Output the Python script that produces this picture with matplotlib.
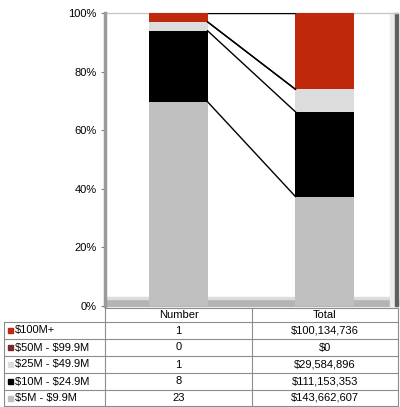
import numpy as np
import matplotlib
matplotlib.use("Agg")
import matplotlib.pyplot as plt
from matplotlib.patches import Rectangle
from matplotlib.lines import Line2D

plt.rcParams['font.family'] = ['Liberation Sans', 'DejaVu Sans']
plt.rcParams['font.size'] = 8
plt.rcParams['text.parse_math'] = False

# data (top row of the table first)
bands = ['$100M+', '$50M - $99.9M', '$25M - $49.9M', '$10M - $24.9M', '$5M - $9.9M']
counts = [1, 0, 1, 8, 23]
totals = [100134736, 0, 29584896, 111153353, 143662607]
columns = ['Number', 'Total']
colors = ['#c0280c', '#7a2a2a', '#dcdcdc', '#000000', '#c0c0c0']

W, H = 400, 407
fig = plt.figure(figsize=(W / 100, H / 100), dpi=100)

def fx(x):
    return x / W

def fy(y):
    return 1 - y / H

# plot area in pixels
L, R, T, B = 105, 398, 13, 306
ax = fig.add_axes([fx(L), fy(B), fx(R) - fx(L), fy(T) - fy(B)])

# stacked 100% bars, bottom band first
cnt = np.array(counts[::-1], dtype=float)
tot = np.array(totals[::-1], dtype=float)
cols = colors[::-1]
pcts = np.vstack([cnt / cnt.sum() * 100, tot / tot.sum() * 100])
xpos = np.arange(len(columns))
bw = 0.4
bottom = np.zeros(2)
for i in range(len(cnt)):
    ax.bar(xpos, pcts[:, i], bw, bottom=bottom, color=cols[i], zorder=3)
    bottom = bottom + pcts[:, i]

# series lines joining the segment boundaries
cum = np.cumsum(pcts, axis=1)
for i in range(cum.shape[1]):
    ax.plot([xpos[0] + bw / 2, xpos[1] - bw / 2], [cum[0, i], cum[1, i]],
            color='black', lw=1, zorder=4)

ax.set_xlim(-0.5, 1.5)
ax.set_ylim(0, 100)
ax.set_yticks(np.arange(0, 101, 20))
ax.set_yticklabels(['%d%%' % v for v in range(0, 101, 20)])
ax.set_xticks([])
ax.tick_params(axis='y', length=3, width=0.8, color='#808080', pad=3)

for s in ['top', 'right', 'bottom']:
    ax.spines[s].set_visible(False)
ax.spines['left'].set_color('#9a9a9a')
ax.spines['left'].set_linewidth(2.5)

# 3D-ish floor and shadow
ax.add_patch(Rectangle((0, 0), 1, 0.025, transform=ax.transAxes,
                       color='#b4b4b4', zorder=1, clip_on=False))
ax.add_patch(Rectangle((0, 0.025), 1, 0.006, transform=ax.transAxes,
                       color='#dcdcdc', zorder=1, clip_on=False))
ax.add_patch(Rectangle((0.972, 0), 0.018, 1, transform=ax.transAxes,
                       color='#ececec', zorder=1, clip_on=False))
ax.add_patch(Rectangle((0.99, 0), 0.01, 1, transform=ax.transAxes,
                       color='#606060', zorder=1, clip_on=False))
ax.plot([0, 1], [1, 1], transform=ax.transAxes, color='#c8c8c8', lw=1,
        clip_on=False, zorder=1)

# data table under the chart
xs = [4, 105, 252, 398]
ys = [308, 322, 339, 356, 373, 390, 406]
gc = '#8c8c8c'

def hline(y, x0, x1):
    fig.add_artist(Line2D([fx(x0), fx(x1)], [fy(y), fy(y)], color=gc, lw=0.8))

def vline(x, y0, y1):
    fig.add_artist(Line2D([fx(x), fx(x)], [fy(y0), fy(y1)], color=gc, lw=0.8))

hline(ys[0], xs[1], xs[3])
for y in ys[1:]:
    hline(y, xs[0], xs[3])
vline(xs[0], ys[1], ys[-1])
for x in xs[1:]:
    vline(x, ys[0], ys[-1])

for j, c in enumerate(columns):
    fig.text(fx((xs[j + 1] + xs[j + 2]) / 2), fy((ys[0] + ys[1]) / 2), c,
             ha='center', va='center')

for i, b in enumerate(bands):
    yc = fy((ys[i + 1] + ys[i + 2]) / 2)
    fig.add_artist(Rectangle((fx(8), yc - 2.5 / H), 5 / W, 5 / H,
                             transform=fig.transFigure, color=colors[i]))
    fig.text(fx(15), yc, b, ha='left', va='center')
    fig.text(fx((xs[1] + xs[2]) / 2), yc, str(counts[i]), ha='center', va='center')
    fig.text(fx((xs[2] + xs[3]) / 2), yc, '${:,}'.format(totals[i]),
             ha='center', va='center')

fig.savefig('out.png', dpi=100)
